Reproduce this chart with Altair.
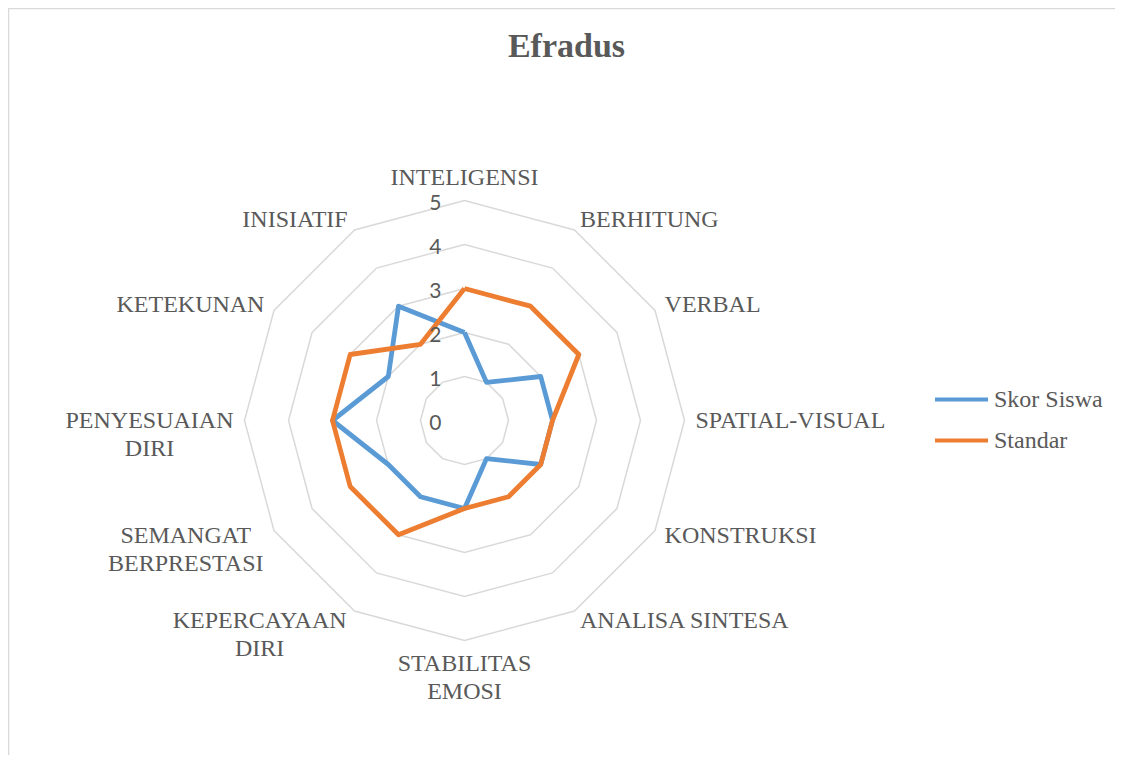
import altair as alt
import pandas as pd

# ---------------- data ----------------
title_text = "Efradus"
categories = ["INTELIGENSI", "BERHITUNG", "VERBAL", "SPATIAL-VISUAL", "KONSTRUKSI",
              "ANALISA SINTESA", "STABILITAS\nEMOSI", "KEPERCAYAAN\nDIRI",
              "SEMANGAT\nBERPRESTASI", "PENYESUAIAN\nDIRI", "KETEKUNAN", "INISIATIF"]
skor_siswa = [2, 1, 2, 2, 2, 1, 2, 2, 2, 3, 2, 3]
standar = [3, 3, 3, 2, 2, 2, 2, 3, 3, 3, 3, 2]
series_names = ["Skor Siswa", "Standar"]
ring_levels = [1, 2, 3, 4, 5]
tick_values = [0, 1, 2, 3, 4, 5]
tick_labels = ["0", "1", "2", "3", "4", "5"]

# ---------------- layout constants ----------------
W, H = 1107, 747
PPU = 44.0                     # pixels per data unit
CX, CY = 456.5, 412.5          # centre of the radar inside the view (px)
N = len(categories)
LABEL_R = 5.25
LABEL_FS = 24
GRAY = "#595959"
SERIF = "Liberation Serif"

# Times-compatible glyph widths (per 1000 em) to centre multi-line labels
TW = dict(A=722, B=667, C=667, D=722, E=611, F=556, G=722, H=722, I=333, J=389,
          K=722, L=611, M=889, N=722, O=722, P=556, Q=722, R=667, S=556, T=611,
          U=722, V=722, W=944, X=722, Y=722, Z=611)
TW[" "] = 250
TW["-"] = 333


def text_width(s):
    return max(sum(TW.get(c, 600) for c in line) for line in s.split("\n")) * LABEL_FS / 1000.0


# ---------------- tables ----------------
rows = []
for name, vals in zip(series_names, [skor_siswa, standar]):
    for i in range(N + 1):
        rows.append({"series": name, "order": i, "value": vals[i % N]})
series_df = pd.DataFrame(rows)

ring_rows = []
for lv in ring_levels:
    for i in range(N + 1):
        ring_rows.append({"level": lv, "order": i, "value": lv})
ring_df = pd.DataFrame(ring_rows)

tick_df = pd.DataFrame({"value": tick_values, "label": tick_labels})

lab_rows = []
for i, c in enumerate(categories):
    if i == 0:
        side = "top"
    elif i == N // 2:
        side = "bottom"
    elif i < N // 2:
        side = "right"
    else:
        side = "left"
    lab_rows.append({"cat": c, "order": i, "side": side,
                     "half_w": text_width(c) / 2.0 / PPU})
lab_df = pd.DataFrame(lab_rows)

title_df = pd.DataFrame({"t": [title_text]})

# ---------------- scales / axes ----------------
xscale = alt.Scale(domain=[-CX / PPU, (W - CX) / PPU], nice=False, zero=False)
yscale = alt.Scale(domain=[-(H - CY) / PPU, CY / PPU], nice=False, zero=False)
xaxis = alt.Axis(orient="top", domain=True, domainColor="#D9D9D9", domainWidth=1.5,
                 ticks=False, labels=False, grid=False, title=None)
yaxis = alt.Axis(orient="left", domain=True, domainColor="#D9D9D9", domainWidth=1.5,
                 ticks=False, labels=False, grid=False, title=None)

ang = f"datum.order * 2 * PI / {N}"


def X(field="x"):
    return alt.X(f"{field}:Q", scale=xscale, axis=xaxis)


def Y(field="y"):
    return alt.Y(f"{field}:Q", scale=yscale, axis=yaxis)


rings = alt.Chart(ring_df).transform_calculate(
    a=ang
).transform_calculate(
    x="datum.value * sin(datum.a)", y="datum.value * cos(datum.a)"
).mark_line(color="#D9D9D9", strokeWidth=1.5).encode(
    x=X(), y=Y(), detail="level:N", order="order:Q"
)

lines = alt.Chart(series_df).transform_calculate(
    a=ang
).transform_calculate(
    x="datum.value * sin(datum.a)", y="datum.value * cos(datum.a)"
).mark_line(strokeWidth=4.8, strokeJoin="round").encode(
    x=X(), y=Y(), order="order:Q",
    color=alt.Color("series:N",
                    scale=alt.Scale(domain=series_names, range=["#5B9BD5", "#ED7D31"]),
                    legend=alt.Legend(title=None, orient="none", legendX=925, legendY=363,
                                      symbolType="stroke", symbolSize=2809,
                                      symbolStrokeWidth=4, labelFont=SERIF,
                                      labelFontSize=24, labelColor=GRAY, labelOffset=4,
                                      rowPadding=-9, padding=0))
)

ticks = alt.Chart(tick_df).transform_calculate(x="0").mark_text(
    align="right", baseline="middle", dx=-23, dy=3, font="Lato", fontSize=21, color=GRAY
).encode(x=X(), y=Y("value"), text="label:N")


def label_layer(side, align, baseline, shift=False):
    xexpr = f"{LABEL_R} * sin(datum.a)" + (" - datum.half_w" if shift else "")
    return alt.Chart(lab_df).transform_filter(
        f"datum.side == '{side}'"
    ).transform_calculate(a=ang).transform_calculate(
        x=xexpr, y=f"{LABEL_R} * cos(datum.a)"
    ).mark_text(
        align=align, baseline=baseline, font=SERIF, fontSize=LABEL_FS, color=GRAY,
        lineBreak="\n", lineHeight=28
    ).encode(x=X(), y=Y(), text="cat:N")


labels = [
    label_layer("top", "center", "bottom"),
    label_layer("bottom", "center", "top"),
    label_layer("right", "left", "middle"),
    label_layer("left", "center", "middle", shift=True),
]

title = alt.Chart(title_df).mark_text(
    align="center", baseline="alphabetic", font=SERIF, fontSize=34,
    fontWeight="bold", color=GRAY
).encode(x=alt.value(558.5), y=alt.value(49), text="t:N")

chart = alt.layer(rings, lines, ticks, *labels, title).properties(
    width=W, height=H,
    padding={"left": 0, "top": 0, "right": 0, "bottom": 0},
).configure_view(stroke=None).configure_legend(
    labelFont=SERIF, labelFontSize=24, labelColor=GRAY
).configure(background="white", font=SERIF)

chart.save("out.html", embed_options={"renderer": "svg", "actions": False})
